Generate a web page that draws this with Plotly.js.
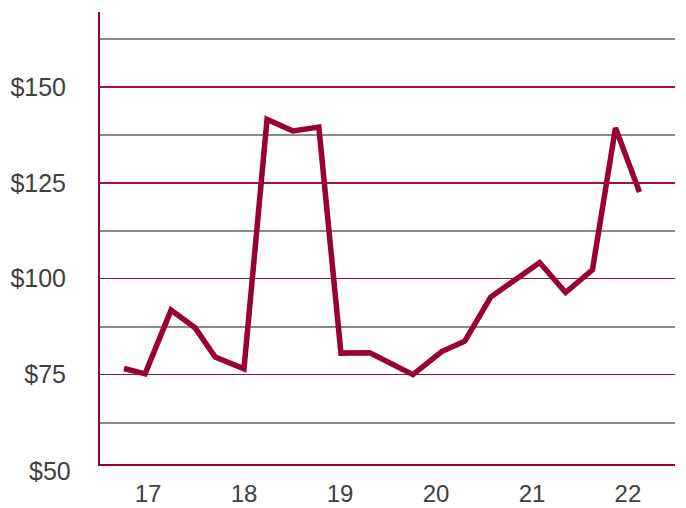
<!DOCTYPE html>
<html>
<head>
<meta charset="utf-8">
<script src="https://cdn.plot.ly/plotly-3.0.1.min.js"></script>
<style>
  html, body { margin: 0; padding: 0; background: #ffffff; }
  #chart { width: 686px; height: 508px; }
</style>
</head>
<body>
<div id="chart"></div>
<script>
// Year position (fractional, '17 = 2017) of each observation
const yearPos = [16.75, 16.97, 17.24, 17.49, 17.70, 18.0, 18.24, 18.51, 18.78, 19.01,
                 19.31, 19.76, 20.06, 20.30, 20.57, 21.08, 21.35, 21.63, 21.87, 22.12];
// Price in dollars
const price   = [76.6, 75.2, 91.8, 87.2, 79.6, 76.5, 141.5, 138.5, 139.5, 80.6,
                 80.7, 75.0, 81.0, 83.7, 95.2, 104.2, 96.4, 102.3, 139.3, 122.6];

const xTickVals = [17, 18, 19, 20, 21, 22];
const xTickText = ['17', '18', '19', '20', '21', '22'];
const yTickVals = [50, 75, 100, 125, 150];
const yTickText = ['$50', '$75', '$100', '$125', '$150'];
const yMinorVals = [62.5, 87.5, 112.5, 137.5, 162.5];

const RED = '#990033';
const GRID_RED = '#a01040';
const GRAY = '#8a8a8a';
const TXT = '#404040';
const FONT = 'Liberation Sans, Arial, sans-serif';
const FSIZE = 25;

const yRange = [51.7, 169.5];

const trace = {
  x: yearPos,
  y: price,
  type: 'scatter',
  mode: 'lines',
  line: { color: RED, width: 5.5 },
  hoverinfo: 'skip'
};

// The $50 label sits just below the plotted range; place it at that value's position
const belowRange = yTickVals.filter(v => v < yRange[0]);
const annotations = belowRange.map(v => ({
  x: 0, xref: 'paper', xanchor: 'right',
  y: (v - yRange[0]) / (yRange[1] - yRange[0]), yref: 'paper', yanchor: 'middle',
  xshift: -27,
  text: yTickText[yTickVals.indexOf(v)],
  showarrow: false,
  font: { family: FONT, size: FSIZE, color: TXT }
}));

const layout = {
  width: 686, height: 508,
  margin: { l: 100, r: 11, t: 12, b: 44 },
  paper_bgcolor: '#ffffff',
  plot_bgcolor: '#ffffff',
  showlegend: false,
  font: { family: FONT, size: FSIZE, color: TXT },
  xaxis: {
    range: [16.5, 22.49],
    tickmode: 'array',
    tickvals: xTickVals,
    ticktext: xTickText,
    showgrid: false,
    zeroline: false,
    showline: true,
    linecolor: RED,
    linewidth: 2,
    ticks: '',
    ticklabelstandoff: 7,
    tickfont: { family: FONT, size: 24, color: TXT },
    fixedrange: true
  },
  yaxis: {
    range: yRange,
    tickmode: 'array',
    tickvals: yTickVals,
    ticktext: yTickText,
    showgrid: true,
    gridcolor: GRID_RED,
    gridwidth: 1.6,
    zeroline: false,
    showline: true,
    linecolor: RED,
    linewidth: 2,
    ticks: '',
    ticklabelstandoff: 27,
    tickfont: { family: FONT, size: FSIZE, color: TXT },
    minor: {
      tickmode: 'array',
      tickvals: yMinorVals,
      showgrid: true,
      gridcolor: GRAY,
      gridwidth: 2,
      ticks: ''
    },
    fixedrange: true
  },
  annotations: annotations
};

Plotly.newPlot('chart', [trace], layout, { displayModeBar: false, staticPlot: true });
</script>
</body>
</html>
